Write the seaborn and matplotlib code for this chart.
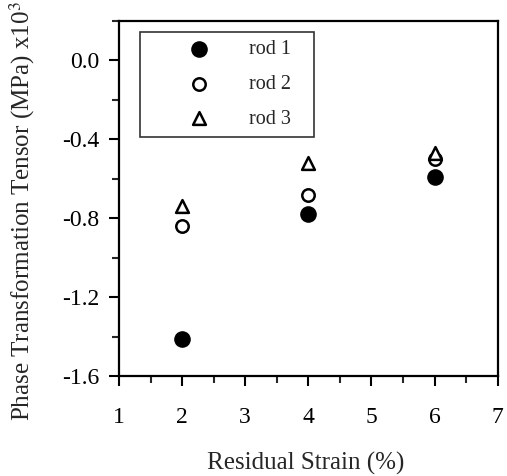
import matplotlib
matplotlib.use("Agg")
import matplotlib.pyplot as plt
import seaborn as sns
import pandas as pd
from matplotlib.ticker import MultipleLocator

strain = [2, 4, 6]
rod1 = [-1.41, -0.78, -0.59]
rod2 = [-0.84, -0.68, -0.50]
rod3 = [-0.74, -0.52, -0.47]
series_names = ["rod 1", "rod 2", "rod 3"]
xticks = [1, 2, 3, 4, 5, 6, 7]
yticks = [0.0, -0.4, -0.8, -1.2, -1.6]
ytick_labels = ["0.0", "-0.4", "-0.8", "-1.2", "-1.6"]

df = pd.DataFrame({
    "strain": strain * 3,
    "tensor": rod1 + rod2 + rod3,
    "rod": [n for n in series_names for _ in strain],
})

sns.set_theme(style="white")
plt.rcParams["font.family"] = ["Liberation Serif", "DejaVu Serif"]
plt.rcParams["mathtext.fontset"] = "stix"

fig = plt.figure(figsize=(5.07, 4.76), dpi=100)
ax = fig.add_axes([0.2347, 0.21, 0.747, 0.746])

styles = {
    "rod 1": dict(marker="o", s=120, facecolor="black", edgecolor="black", linewidth=1.0),
    "rod 2": dict(marker="o", s=80, facecolor="white", edgecolor="black", linewidth=1.8),
    "rod 3": dict(marker="^", s=85, facecolor="white", edgecolor="black", linewidth=1.8),
}
for name in series_names:
    sub = df[df["rod"] == name]
    sns.scatterplot(data=sub, x="strain", y="tensor", ax=ax, label=name + "   ", **styles[name])

ax.set_xlim(1, 7)
ax.set_ylim(-1.6, 0.2)
ax.set_xticks(xticks)
ax.set_yticks(yticks)
ax.set_yticklabels(ytick_labels)
ax.xaxis.set_minor_locator(MultipleLocator(0.5))
ax.yaxis.set_minor_locator(MultipleLocator(0.2))
ax.tick_params(axis="both", which="major", direction="out", length=7, width=1.5,
               labelsize=17, colors="black")
ax.tick_params(axis="x", which="major", pad=15)
ax.tick_params(axis="y", which="major", pad=7)
ax.tick_params(axis="both", which="minor", direction="out", length=5, width=1.5)
ax.tick_params(top=False, right=False, bottom=True, left=True, which="both")
for sp in ax.spines.values():
    sp.set_linewidth(1.6)
    sp.set_color("black")

ax.set_xlabel("Residual Strain (%)", fontsize=18)
ax.xaxis.set_label_coords(0.493, -0.214)
ax.set_ylabel(r"Phase Transformation Tensor (MPa) x10$^3$", fontsize=18)
ax.yaxis.set_label_coords(-0.216, 0.465)

leg = ax.legend(loc="upper left", bbox_to_anchor=(0.055, 0.97), frameon=True, fancybox=False,
                edgecolor="black", fontsize=14.5, handletextpad=0.0, borderpad=0.42,
                labelspacing=0.78, handlelength=5.0, borderaxespad=0)
leg.get_frame().set_linewidth(1.2)

fig.savefig("out.png", dpi=100)
